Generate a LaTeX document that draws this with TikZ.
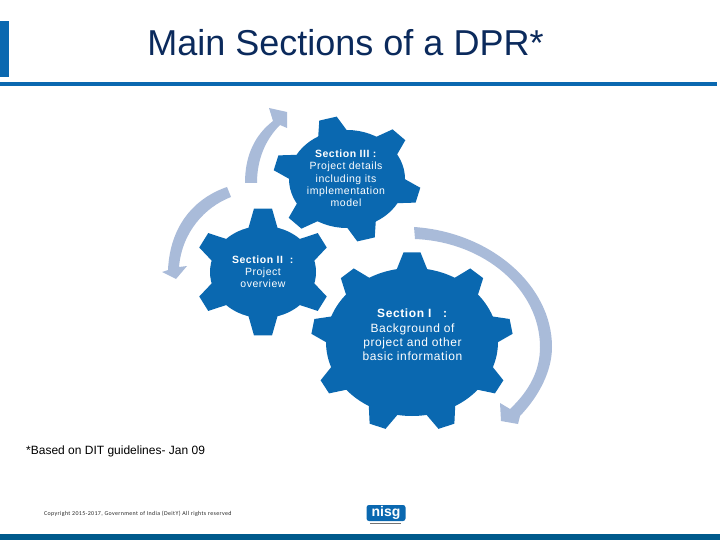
\documentclass[tikz,border=0pt]{standalone}
\usepackage{fontspec}
\setmainfont{Liberation Sans}
\newfontfamily\spaced[LetterSpace=5]{Liberation Sans}
\newfontfamily\logofont{Carlito}
\definecolor{gearblue}{HTML}{0A68B0}
\definecolor{arrowblue}{HTML}{A9BBD9}
\definecolor{titleblue}{HTML}{0B2A5C}
\definecolor{footblue}{HTML}{005A8C}
\tikzset{
  geartext/.style={text=white,align=center,inner sep=0pt},
  arrowshape/.style={fill=arrowblue,draw=none},
  barshape/.style={fill=gearblue,draw=none}
}
% #1 cx, #2 cy, #3 body rx, #4 body ry, #5 tip rx, #6 tip ry, #7 tooth count, #8 first angle, #9 tip half-angle
\newcommand{\gearshape}[9]{%
  \fill[gearblue] (#1,#2) ellipse [x radius=#3, y radius=#4];
  \foreach \k in {1,...,#7}{
    \pgfmathsetmacro{\ang}{#8+360/#7*(\k-1)}
    \pgfmathsetmacro{\wr}{#9*2.3}
    \pgfmathsetmacro{\wt}{#9}
    \fill[gearblue]
      ({#1+(#3-2)*sin(\ang-\wr)},{#2-(#4-2)*cos(\ang-\wr)}) --
      ({#1+#5*sin(\ang-\wt)},{#2-#6*cos(\ang-\wt)}) --
      ({#1+#5*sin(\ang+\wt)},{#2-#6*cos(\ang+\wt)}) --
      ({#1+(#3-2)*sin(\ang+\wr)},{#2-(#4-2)*cos(\ang+\wr)}) -- cycle;
  }%
}
\begin{document}
\begin{tikzpicture}[x=1pt,y=-1pt]
\useasboundingbox (0,0) rectangle (720,540);
% bars
\fill[barshape] (0,21) rectangle (9,77);
\fill[barshape] (0,82) rectangle (717,86);
\fill[footblue] (0,534) rectangle (720,540);
% title
\node[text=titleblue,inner sep=0pt,font=\fontsize{36}{40}\selectfont] (title) at (345.5,43) {Main Sections of a DPR*};
% arrows
\fill[arrowshape] (245,183) .. controls (245,155) and (255,135) .. (273,121)
  -- (269,108) -- (287,112) -- (287,128) -- (280,125)
  .. controls (265,140) and (257,160) .. (257,183) -- cycle;
\fill[arrowshape] (227,187) .. controls (195,198) and (170,225) .. (168,270)
  -- (162,272) -- (176,279) -- (187,266) -- (179,267)
  .. controls (182,232) and (205,207) .. (231,197) -- cycle;
\fill[arrowshape] (414,227) .. controls (490,232) and (552,285) .. (552,347)
  .. controls (552,370) and (540,395) .. (520,416)
  -- (518,424) -- (501,421) -- (500,403) -- (510,409)
  .. controls (530,390) and (540,370) .. (540,347)
  .. controls (540,290) and (485,242) .. (415,239) -- cycle;
% gears
\gearshape{347}{179}{58}{49}{74}{63}{6}{-15}{7}
\gearshape{263}{272}{53}{46}{69}{64}{6}{0}{7.5}
\gearshape{412}{342}{86}{74}{101}{90}{9}{0}{4.8}
% gear text
\node[geartext,font=\fontsize{10.5}{12.3}\selectfont\spaced] (s3) at (346,178.5) {\textbf{Section III :}\\Project details\\including its\\implementation\\model};
\node[geartext,font=\fontsize{10.5}{12.1}\selectfont\spaced] (s2) at (263,272) {\textbf{Section II\ \ :}\\Project\\overview};
\node[geartext,font=\fontsize{12}{14.4}\selectfont\spaced] (s1) at (412.5,335) {\textbf{Section I\ \ \ :}\\Background of\\project and other\\basic information};
% footnote
\node[anchor=west,inner sep=0pt,font=\fontsize{12}{14}\selectfont] (note) at (26,451) {*Based on DIT guidelines- Jan 09};
\node[anchor=west,inner sep=0pt,text=black!85,font=\fontsize{5.95}{8}\selectfont\logofont\addfontfeature{LetterSpace=6}] (copy) at (44,513.5) {Copyright 2015-2017, Government of India (DeitY) All rights reserved};
% logo
\node[fill=gearblue,rounded corners=2.5pt,minimum width=39pt,minimum height=16pt,inner sep=0pt,text=white,font=\fontsize{14}{14}\selectfont\bfseries] (logo) at (386,513) {nisg};
\fill[black!55] (370,523) rectangle (401,524);
\end{tikzpicture}
\end{document}
